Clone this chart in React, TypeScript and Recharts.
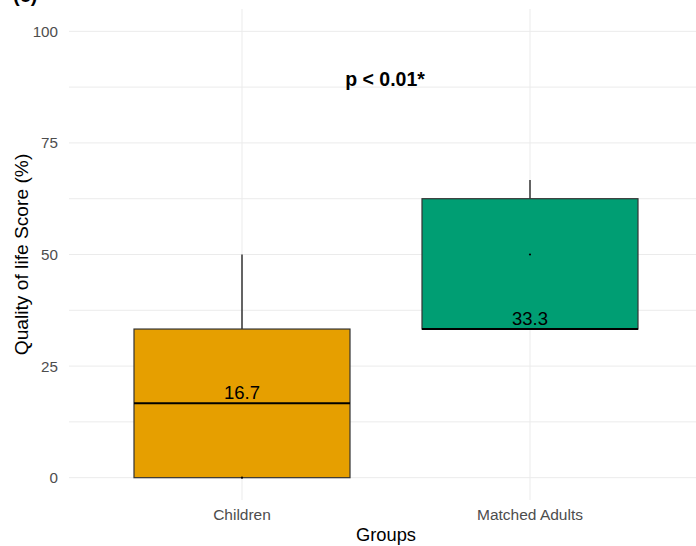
import React from 'react';
import { BarChart, Bar, XAxis, YAxis, CartesianGrid } from 'recharts';

// Box-plot summary per group (quality of life score, %)
const groups = ['Children', 'Matched Adults'];
const lowerWhisker = [0, 33.3];
const q1 = [0, 33.3];
const medians = [16.7, 33.3];
const q3 = [33.3, 62.5];
const upperWhisker = [50, 66.7];
const points = [0, 50];
const fills = ['#E69F00', '#009E73'];

const yTicks = [0, 25, 50, 75, 100];
const gridValues = [0, 12.5, 25, 37.5, 50, 62.5, 75, 87.5, 100];

const FONT = '"Liberation Sans", Arial, Helvetica, sans-serif';

const data = groups.map((g, i) => ({
  group: g,
  low: lowerWhisker[i],
  q1: q1[i],
  median: medians[i],
  q3: q3[i],
  high: upperWhisker[i],
  point: points[i],
  fill: fills[i],
}));

// The bar spans 0..high; its pixel extent gives the y scale for the other statistics.
const BoxShape = (props: any) => {
  const { x, y, width, height, payload } = props;
  const base = y + height;
  const perUnit = height / payload.high;
  const py = (v: number) => base - v * perUnit;
  const cx = x + width / 2;
  const edge = '#333333';
  return (
    <g>
      <line x1={cx} x2={cx} y1={py(payload.q3)} y2={py(payload.high)} stroke={edge} strokeWidth={1.5} />
      <line x1={cx} x2={cx} y1={py(payload.q1)} y2={py(payload.low)} stroke={edge} strokeWidth={1.5} />
      <rect
        x={x}
        y={py(payload.q3)}
        width={width}
        height={py(payload.q1) - py(payload.q3)}
        fill={payload.fill}
        stroke={edge}
        strokeWidth={1.2}
      />
      <line x1={x} x2={x + width} y1={py(payload.median)} y2={py(payload.median)} stroke="#000" strokeWidth={2} />
      <circle cx={cx} cy={py(payload.point)} r={1.1} fill="#000" />
      <text
        x={cx}
        y={py(payload.median) - 4}
        textAnchor="middle"
        fontFamily={FONT}
        fontSize={18.5}
        fill="#000"
      >
        {payload.median.toFixed(1)}
      </text>
    </g>
  );
};

const YTick = (props: any) => {
  const { x, y, payload } = props;
  if (!yTicks.includes(payload.value)) return null;
  return (
    <text x={x} y={y} dy={5.5} textAnchor="end" fontFamily={FONT} fontSize={15.2} fill="#4D4D4D">
      {payload.value}
    </text>
  );
};

const XTick = (props: any) => {
  const { x, y, payload } = props;
  return (
    <text x={x} y={y} dy={20} textAnchor="middle" fontFamily={FONT} fontSize={15.5} fill="#4D4D4D">
      {payload.value}
    </text>
  );
};

const YTitle = (props: any) => {
  const { viewBox } = props;
  const cy = viewBox.y + viewBox.height / 2;
  return (
    <text
      x={28}
      y={cy}
      transform={`rotate(-90, 28, ${cy})`}
      textAnchor="middle"
      fontFamily={FONT}
      fontSize={19.2}
      fill="#000"
    >
      Quality of life Score (%)
    </text>
  );
};

const XTitle = (props: any) => {
  const { viewBox } = props;
  return (
    <text
      x={viewBox.x + viewBox.width / 2 + 3.5}
      y={541}
      textAnchor="middle"
      fontFamily={FONT}
      fontSize={18.3}
      fill="#000"
    >
      Groups
    </text>
  );
};

export default function App() {
  return (
    <div style={{ position: 'absolute', left: 0, top: 0, width: 696, height: 546, background: '#fff' }}>
      <BarChart
        width={696}
        height={546}
        data={data}
        margin={{ top: 9, right: 0, bottom: 16, left: 0 }}
        barCategoryGap="12.5%"
      >
        <CartesianGrid stroke="#EBEBEB" strokeWidth={1} syncWithTicks />
        <XAxis
          dataKey="group"
          type="category"
          height={30}
          padding={{ left: 29, right: 22 }}
          axisLine={false}
          tickLine={false}
          tickSize={0}
          tickMargin={0}
          tick={<XTick />}
          label={<XTitle />}
        />
        <YAxis
          type="number"
          domain={[-5, 105]}
          ticks={gridValues}
          width={69}
          axisLine={false}
          tickLine={false}
          tickSize={0}
          tickMargin={11}
          tick={<YTick />}
          label={<YTitle />}
          allowDataOverflow
        />
        <Bar dataKey="high" shape={<BoxShape />} isAnimationActive={false} />
      </BarChart>
      <svg
        width={696}
        height={546}
        style={{ position: 'absolute', left: 0, top: 0, pointerEvents: 'none' }}
      >
        <text x={13} y={1.5} fontFamily={FONT} fontSize={20} fontWeight="bold" fill="#000">
          (c)
        </text>
        <text x={385} y={85.5} textAnchor="middle" fontFamily={FONT} fontSize={19.5} fontWeight="bold" fill="#000">
          p &lt; 0.01*
        </text>
      </svg>
    </div>
  );
}
